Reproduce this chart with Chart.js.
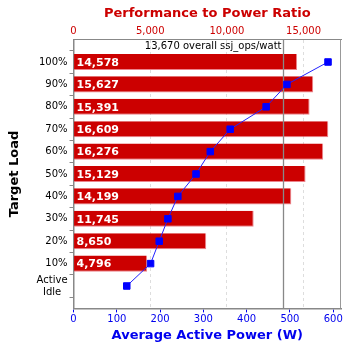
<!DOCTYPE html>
<html>
<head>
<meta charset="utf-8">
<script src="https://cdn.jsdelivr.net/npm/chart.js@4/dist/chart.umd.min.js"></script>
<style>
  html, body { margin: 0; padding: 0; background: #fff; }
  #wrap { width: 348px; height: 348px; }
</style>
</head>
<body>
<div id="wrap"><canvas id="chart" width="348" height="348"></canvas></div>
<script>
// ===============================
// DATA
// ===============================
const loadLabels = ["100%", "90%", "80%", "70%", "60%", "50%", "40%", "30%", "20%", "10%", ["Active", "Idle  "]];
const perfRatio = [14578, 15627, 15391, 16609, 16276, 15129, 14199, 11745, 8650, 4796, null];
const avgPower = [588, 493, 445, 362, 316, 283, 241, 218, 198, 178, 123];
const overallRatio = 13670;
const ratioTicks = [0, 5000, 10000, 15000];
const powerTicks = [0, 100, 200, 300, 400, 500, 600];

// one empty slot above and below the rows
const labels = [""].concat(loadLabels, [""]);
const padded = arr => [null].concat(arr, [null]);

const FONT = "'DejaVu Sans', sans-serif";
const fmt = v => v.toLocaleString("en-US");

// ===============================
// PLUGINS
// ===============================
const decorPlugin = {
  id: "decor",
  afterDatasetDraw(chart, args) {
    if (args.index !== 0) return;
    const ctx = chart.ctx;
    const area = chart.chartArea;
    const xs = chart.scales.x;
    const meta = chart.getDatasetMeta(0);

    // value labels inside bars
    ctx.save();
    ctx.font = "bold 11px " + FONT;
    ctx.fillStyle = "#fff";
    ctx.textBaseline = "middle";
    ctx.textAlign = "left";
    meta.data.forEach((bar, i) => {
      const v = chart.data.datasets[0].data[i];
      if (v == null) return;
      ctx.fillText(fmt(v), area.left + 3, bar.y + 1);
    });
    ctx.restore();

    // overall ratio line
    const lx = Math.round(xs.getPixelForValue(overallRatio)) + 0.5;
    ctx.save();
    ctx.strokeStyle = "#888";
    ctx.lineWidth = 1.3;
    ctx.beginPath();
    ctx.moveTo(lx, area.top);
    ctx.lineTo(lx, area.bottom);
    ctx.stroke();
    ctx.font = "10px " + FONT;
    ctx.fillStyle = "#000";
    ctx.textAlign = "right";
    ctx.textBaseline = "middle";
    ctx.fillText(fmt(overallRatio) + " overall ssj_ops/watt", lx - 2, area.top + 7);
    ctx.restore();
  },
  afterDraw(chart) {
    const ctx = chart.ctx;
    const a = chart.chartArea;
    ctx.save();
    ctx.strokeStyle = "#999";
    ctx.lineWidth = 1;
    ctx.beginPath();
    ctx.moveTo(a.right - 0.5, a.top);
    ctx.lineTo(a.right - 0.5, a.bottom);
    ctx.stroke();
    ctx.restore();
  }
};

// ===============================
// CHART
// ===============================
new Chart(document.getElementById("chart"), {
  type: "bar",
  data: {
    labels: labels,
    datasets: [{
      label: "Performance to Power Ratio",
      data: padded(perfRatio),
      xAxisID: "x",
      backgroundColor: "#cc0000",
      borderColor: "rgba(230,90,100,0.75)",
      borderWidth: { right: 1, bottom: 1, top: 0, left: 0 },
      borderSkipped: false,
      barPercentage: 0.9,
      categoryPercentage: 0.8,
      order: 2
    }, {
      type: "line",
      label: "Average Active Power (W)",
      data: padded(avgPower),
      xAxisID: "x2",
      borderColor: "#2222ff",
      borderWidth: 1,
      backgroundColor: "#0000ff",
      pointStyle: "rect",
      pointRadius: 4.6,
      pointBorderWidth: 1,
      pointBorderColor: "#0000ff",
      pointBackgroundColor: "#0000ff",
      spanGaps: false,
      order: 1
    }]
  },
  options: {
    indexAxis: "y",
    responsive: false,
    animation: false,
    layout: { padding: { top: 6, right: 7, left: 7, bottom: 5 } },
    plugins: {
      legend: { display: false },
      tooltip: { enabled: false }
    },
    scales: {
      x: {
        position: "top",
        min: 0,
        max: 17439,
        afterBuildTicks: s => { s.ticks = ratioTicks.map(v => ({ value: v })); },
        ticks: {
          color: "#cc0000",
          font: { family: FONT, size: 10 },
          padding: 2,
          callback: v => fmt(v),
          maxRotation: 0
        },
        grid: { color: "#ddd", tickLength: 0, drawTicks: false, lineWidth: 1 },
        border: { color: "#888", dash: [3, 3], display: true },
        title: {
          display: true,
          text: "Performance to Power Ratio",
          color: "#cc0000",
          font: { family: FONT, size: 13, weight: "bold" },
          padding: { top: 0, bottom: 2 }
        }
      },
      x2: {
        position: "bottom",
        min: 0,
        max: 618,
        afterBuildTicks: s => { s.ticks = powerTicks.map(v => ({ value: v })); },
        ticks: {
          color: "#0000ee",
          font: { family: FONT, size: 10 },
          padding: 1,
          maxRotation: 0
        },
        grid: { drawOnChartArea: false, color: "#0000ee", tickLength: 4 },
        border: { color: "#888", width: 1.5 },
        title: {
          display: true,
          text: "Average Active Power (W)",
          color: "#0000ee",
          font: { family: FONT, size: 13, weight: "bold" },
          padding: { top: 1, bottom: 0 }
        }
      },
      y: {
        offset: false,
        grid: { drawOnChartArea: false, color: "#888", tickLength: 4 },
        border: { color: "#888", width: 1.5 },
        ticks: {
          color: "#000",
          font: { family: FONT, size: 10 },
          padding: 2,
          autoSkip: false
        },
        title: {
          display: true,
          text: "Target Load",
          color: "#000",
          font: { family: FONT, size: 13, weight: "bold" },
          padding: { top: 0, bottom: 12 }
        }
      }
    }
  },
  plugins: [decorPlugin]
});
</script>
</body>
</html>
